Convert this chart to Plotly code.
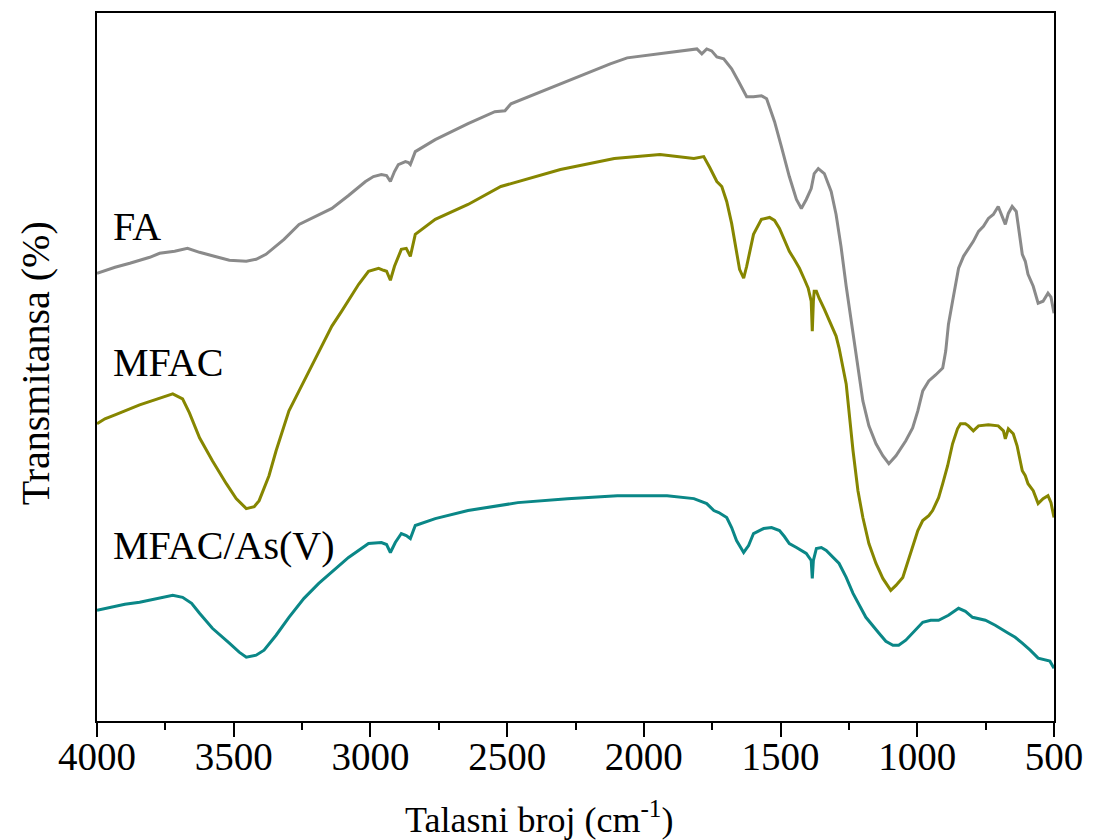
import plotly.graph_objects as go

# ---------------- data (wavenumber in cm^-1, transmittance in a.u.) ----------------
fa_wn = [4000, 3934, 3880, 3807, 3771, 3716, 3669, 3625, 3571, 3516, 3454, 3418, 3382, 3316, 3261,
         3207, 3141, 3080, 3018, 2989, 2960, 2941, 2927, 2912, 2898, 2872, 2861, 2854, 2836, 2763,
         2727, 2643, 2545, 2508, 2486, 2305, 2123, 2061, 1879, 1806, 1788, 1770, 1752, 1733, 1708,
         1679, 1653, 1624, 1599, 1570, 1551, 1522, 1497, 1468, 1442, 1424, 1406, 1395, 1388, 1377,
         1362, 1340, 1315, 1297, 1279, 1260, 1235, 1217, 1199, 1177, 1151, 1126, 1104, 1078, 1042,
         1017, 998, 980, 958, 933, 907, 896, 886, 871, 849, 831, 813, 795, 776, 758,
         740, 722, 704, 689, 678, 667, 653, 638, 624, 616, 605, 595, 576, 558, 540,
         522, 511, 500]
fa_t = [449, 455, 459, 465, 469, 471, 474, 470, 466, 462, 461, 463, 468, 483, 498,
        505, 514, 527, 541, 546, 548, 547, 541, 551, 558, 561, 560, 558, 571, 583,
        588, 599, 611, 612, 619, 639, 659, 665, 671, 674, 669, 674, 672, 666, 664,
        654, 641, 626, 626, 627, 624, 601, 576, 546, 523, 514, 523, 529, 534, 549,
        554, 549, 531, 508, 476, 436, 388, 351, 321, 296, 278, 266, 258, 266, 281,
        294, 311, 331, 341, 347, 354, 371, 398, 421, 454, 466, 474, 481, 491, 496,
        504, 508, 516, 506, 498, 509, 516, 511, 486, 468, 461, 448, 436, 419, 421,
        429, 425, 409]

mfac_wn = [4000, 3971, 3934, 3898, 3844, 3789, 3753, 3723, 3687, 3662, 3625, 3578, 3527, 3491, 3454,
           3425, 3407, 3371, 3345, 3298, 3261, 3225, 3189, 3141, 3105, 3072, 3043, 3007, 2970, 2952,
           2941, 2927, 2912, 2887, 2869, 2854, 2836, 2763, 2643, 2523, 2399, 2305, 2108, 1941, 1817,
           1781, 1759, 1733, 1715, 1697, 1679, 1661, 1650, 1635, 1624, 1599, 1570, 1540, 1522, 1504,
           1486, 1468, 1450, 1431, 1413, 1399, 1388, 1384, 1380, 1377, 1369, 1359, 1340, 1322, 1297,
           1286, 1260, 1235, 1217, 1199, 1177, 1151, 1126, 1097, 1078, 1053, 1035, 1017, 998, 980,
           958, 944, 922, 907, 889, 871, 853, 842, 824, 813, 795, 776, 740, 704, 685,
           678, 667, 649, 635, 616, 605, 595, 576, 558, 540, 522, 511, 500]
mfac_t = [298, 303, 307, 311, 317, 322, 325, 328, 323, 309, 284, 261, 238, 223, 213,
          215, 221, 246, 271, 311, 331, 351, 371, 396, 411, 426, 438, 451, 454, 452,
          451, 442, 456, 473, 474, 466, 488, 503, 518, 536, 546, 553, 564, 568, 564,
          566, 555, 541, 536, 521, 499, 468, 453, 444, 456, 488, 503, 505, 502, 494,
          483, 471, 463, 454, 443, 434, 421, 391, 421, 431, 431, 424, 413, 401, 386,
          374, 338, 271, 231, 204, 178, 158, 143, 131, 136, 144, 159, 174, 191, 201,
          206, 211, 224, 238, 256, 278, 293, 298, 298, 296, 291, 296, 297, 296, 291,
          283, 293, 288, 276, 251, 246, 238, 231, 218, 223, 226, 219, 204]

mfac_as_wn = [4000, 3953, 3898, 3844, 3789, 3723, 3687, 3654, 3625, 3578, 3516, 3480, 3454, 3418, 3389,
              3345, 3298, 3243, 3189, 3134, 3080, 3007, 2960, 2941, 2927, 2909, 2887, 2869, 2854, 2836,
              2763, 2643, 2461, 2279, 2097, 1915, 1817, 1770, 1744, 1726, 1697, 1679, 1661, 1635, 1617,
              1599, 1562, 1533, 1504, 1486, 1468, 1442, 1406, 1388, 1384, 1380, 1369, 1351, 1333, 1286,
              1260, 1235, 1188, 1140, 1115, 1089, 1068, 1042, 1013, 980, 951, 922, 886, 849, 824,
              798, 751, 715, 667, 642, 616, 587, 558, 533, 515, 500]
mfac_as_t = [111, 114, 117, 119, 122, 126, 124, 118, 108, 93, 78, 69, 64, 66, 71,
             86, 104, 123, 138, 151, 164, 178, 179, 177, 169, 179, 188, 186, 183, 196,
             203, 211, 219, 223, 226, 226, 223, 218, 211, 209, 204, 194, 181, 169, 176,
             188, 193, 194, 191, 185, 178, 174, 168, 161, 143, 161, 173, 174, 171, 158,
             144, 128, 104, 88, 80, 76, 76, 81, 89, 99, 101, 101, 106, 113, 110,
             104, 101, 96, 88, 84, 78, 71, 63, 61, 60, 53]

series_names = ["FA", "MFAC", "MFAC/As(V)"]
series_colors = ["#8a8a8a", "#868600", "#0a8787"]
x_ticks = [4000, 3500, 3000, 2500, 2000, 1500, 1000, 500]

FONT = "Liberation Serif, Times New Roman, serif"

fig = go.Figure()
for wn, t, name, col in zip([fa_wn, mfac_wn, mfac_as_wn], [fa_t, mfac_t, mfac_as_t],
                            series_names, series_colors):
    fig.add_trace(go.Scatter(x=wn, y=t, mode="lines", name=name,
                             line=dict(color=col, width=3), showlegend=False))

fig.update_layout(
    width=1094, height=840, autosize=False,
    margin=dict(l=97, r=35, t=11, b=119),
    paper_bgcolor="white", plot_bgcolor="white",
    font=dict(family=FONT, color="black"),
)
fig.update_xaxes(
    range=[4000, 500], tickvals=x_ticks, ticktext=[str(v) for v in x_ticks],
    ticks="outside", ticklen=14, tickwidth=2, tickcolor="black",
    minor=dict(dtick=250, tick0=0, ticks="outside", ticklen=7, tickwidth=2, tickcolor="black"),
    showline=True, linecolor="black", linewidth=2, mirror=True,
    showgrid=False, zeroline=False, ticklabelstandoff=-14,
    tickfont=dict(family=FONT, size=39, color="black"),
)
fig.update_yaxes(
    range=[0, 710], showticklabels=False, ticks="",
    showline=True, linecolor="black", linewidth=2, mirror=True,
    showgrid=False, zeroline=False,
)

# curve labels
label_pos = [(111, 225), (111, 361), (111, 545)]
for name, (px, py) in zip(series_names, label_pos):
    fig.add_annotation(text=name, xref="paper", yref="paper",
                       x=(px - 97) / 962, y=(721 - py) / 710,
                       xanchor="left", yanchor="middle", showarrow=False,
                       font=dict(family=FONT, size=40, color="black"))

# axis titles
fig.add_annotation(text="Talasni broj (cm<sup>-1</sup>)", xref="paper", yref="paper",
                   x=(541 - 97) / 962, y=(721 - 818) / 710, xanchor="center", yanchor="middle",
                   showarrow=False, font=dict(family=FONT, size=36, color="black"))
fig.add_annotation(text="Transmitansa (%)", xref="paper", yref="paper",
                   x=(35 - 97) / 962, y=(721 - 362) / 710, xanchor="center", yanchor="middle",
                   textangle=-90, showarrow=False, font=dict(family=FONT, size=40, color="black"))

fig.write_html("out.html", config={"displayModeBar": False},
               post_script="document.body.style.margin='0';document.body.style.overflow='hidden';")
